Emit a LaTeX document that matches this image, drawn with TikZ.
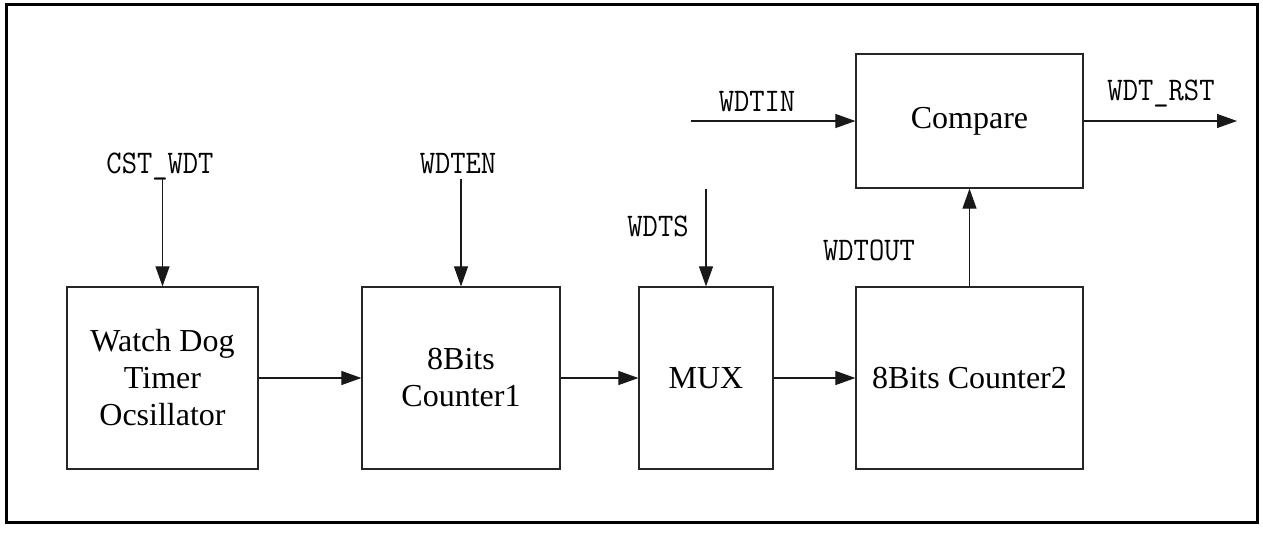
\documentclass[tikz,border=0pt]{standalone}
\usepackage{fontspec}
\setmainfont{Liberation Serif}
\newfontfamily\labfont[FakeStretch=0.9]{Latin Modern Mono}
\usetikzlibrary{arrows.meta}
\begin{document}
\begin{tikzpicture}[x=1pt,y=-1pt,
  blk/.style={draw=black!85,line width=1.2pt,inner sep=0pt,align=center,
    font=\fontsize{32}{37}\selectfont},
  sig/.style={font=\labfont\fontsize{33}{33}\selectfont,anchor=base,inner sep=0pt},
  conn/.style={draw=black!90,line width=1.1pt,-{Triangle[length=20pt,width=14pt]}}]
\useasboundingbox (0,0) rectangle (1263,543);
\draw[line width=3pt] (6,5) rectangle (1257,522);
% blocks
\node[blk,minimum width=191pt,minimum height=182pt] (osc) at (162.5,378) {Watch Dog\\Timer\\Ocsillator};
\node[blk,minimum width=198pt,minimum height=182pt] (c1) at (461,378) {8Bits\\Counter1};
\node[blk,minimum width=134pt,minimum height=182pt] (mux) at (706,378) {MUX};
\node[blk,minimum width=227pt,minimum height=182pt] (c2) at (969.5,378) {8Bits Counter2};
\node[blk,minimum width=227pt,minimum height=134pt] (cmp) at (969.5,121) {Compare};
% labels
\node[sig] (lcst) at (160,173) {CST\_WDT};
\node[sig] (lwdten) at (458,173) {WDTEN};
\node[sig] (lwdts) at (658,236) {WDTS};
\node[sig] (lwdtin) at (757,111) {WDTIN};
\node[sig] (lrst) at (1161,100) {WDT\_RST};
\node[sig] (lout) at (869,260) {WDTOUT};
% free ends
\coordinate (cst) at (162.5,179);
\coordinate (en) at (461,179);
\coordinate (ts) at (706,189);
\coordinate (tin) at (691,121);
\coordinate (rst) at (1237,121);
% connectors
\draw[conn] (cst) -- (osc.north);
\draw[conn] (en) -- (c1.north);
\draw[conn] (ts) -- (mux.north);
\draw[conn] (osc.east) -- (c1.west);
\draw[conn] (c1.east) -- (mux.west);
\draw[conn] (mux.east) -- (c2.west);
\draw[conn] (c2.north) -- (cmp.south);
\draw[conn] (tin) -- (cmp.west);
\draw[conn] (cmp.east) -- (rst);
\end{tikzpicture}
\end{document}
